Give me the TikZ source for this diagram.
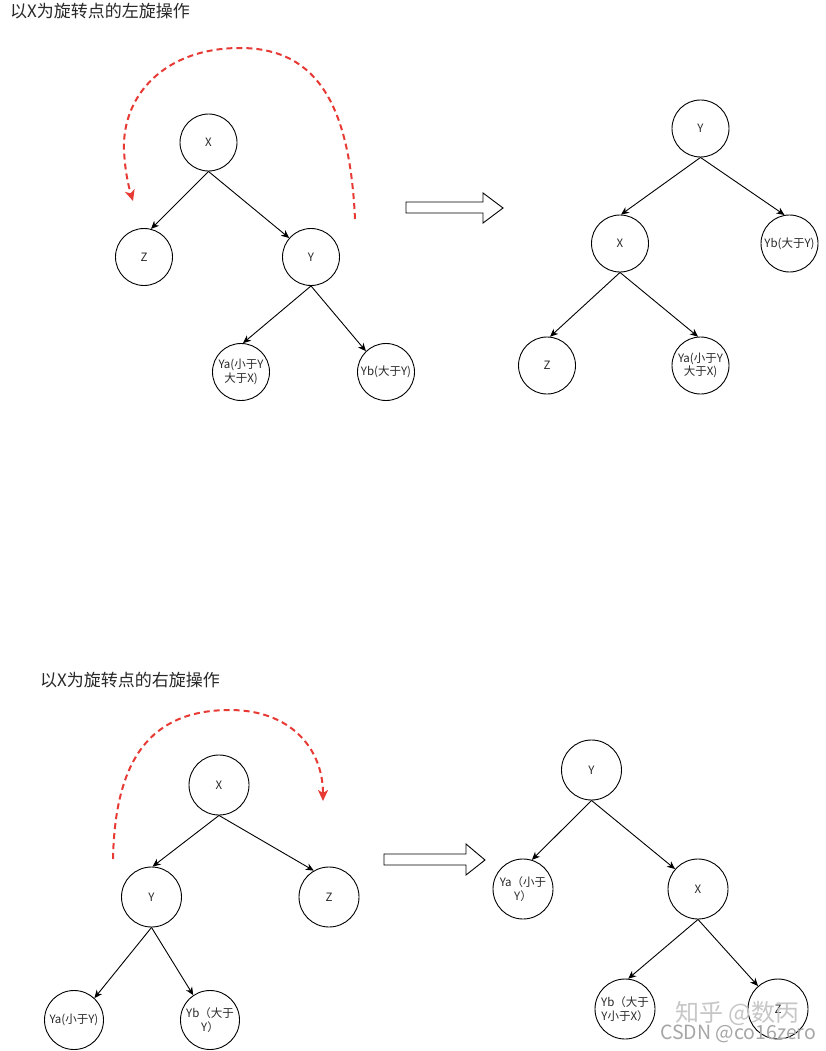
\documentclass[tikz,border=0pt]{standalone}
\usepackage{fontspec}
\setmainfont{Noto Sans CJK SC}
\usetikzlibrary{arrows.meta}
\definecolor{redarc}{RGB}{232,58,52}
\definecolor{txt}{RGB}{40,40,40}
\tikzset{
  nd/.style={draw=black,line width=0.9pt,circle,minimum size=57pt,inner sep=0pt,align=center,
             text=txt,font=\fontsize{11.5}{13.5}\selectfont},
  edge/.style={draw=black,line width=0.9pt,-{Stealth[length=8pt,width=7pt,inset=2.5pt]}},
  rot/.style={draw=redarc,line width=2pt,dash pattern=on 6pt off 4pt,
              -{Stealth[length=11pt,width=10pt,inset=3pt]}},
  hollow/.style={draw=black,line width=0.9pt,fill=white},
  title/.style={anchor=west,text=txt,font=\fontsize{17}{20}\selectfont,inner sep=0pt},
}
\begin{document}
\begin{tikzpicture}[x=1pt,y=-1pt]
\useasboundingbox (0,0) rectangle (826,1051);
\fill[white] (0,0) rectangle (826,1051);

% ---------- titles ----------
\node[title] (t1) at (10,11) {以X为旋转点的左旋操作};
\node[title] (t2) at (40,680) {以X为旋转点的右旋操作};

% ---------- top-left tree ----------
\node[nd] (aX)  at (208.5,142.5) {X};
\node[nd] (aZ)  at (144,257) {Z};
\node[nd] (aY)  at (311,257) {Y};
\node[nd] (aYa) at (241,372) {Ya(小于Y\\大于X)};
\node[nd] (aYb) at (386,372) {Yb(大于Y)};
\draw[edge] (aX.south) -- (aZ.76);
\draw[edge] (aX.south) -- (aY.139);
\draw[edge] (aY.south) -- (aYa.86);
\draw[edge] (aY.south) -- (aYb.134);

\coordinate (r1s) at (355,219);
\coordinate (r1e) at (133,201);
\draw[rot] (r1s) .. controls (350,110) and (320,48) .. (240,48)
  .. controls (165,48) and (122,95) .. (124,150)
  .. controls (125,172) and (129,188) .. (r1e);

% hollow arrow top
\draw[hollow] (406,202) -- (483,202) -- (483,193) -- (503,208) -- (483,223) -- (483,213) -- (406,213) -- cycle;

% ---------- top-right tree ----------
\node[nd] (bY)  at (700.5,128.5) {Y};
\node[nd] (bX)  at (620,243.5) {X};
\node[nd] (bYb) at (789.5,243.5) {Yb(大于Y)};
\node[nd] (bZ)  at (547,365.5) {Z};
\node[nd] (bYa) at (700.5,365.5) {Ya(小于Y\\大于X)};
\draw[edge] (bY.south) -- (bX.88);
\draw[edge] (bY.south) -- (bYb.100);
\draw[edge] (bX.south) -- (bZ.84);
\draw[edge] (bX.south) -- (bYa.95);

% ---------- bottom-left tree ----------
\node[nd,minimum size=60pt] (cX)  at (219,785) {X};
\node[nd,minimum size=60pt] (cY)  at (151.5,897) {Y};
\node[nd,minimum size=60pt] (cZ)  at (329,897) {Z};
\node[nd,minimum size=59pt] (cYa) at (74,1020) {Ya(小于Y)};
\node[nd,minimum size=59pt] (cYb) at (210,1020) {Yb（大于\\Y）};
\draw[edge] (cX.south) -- (cY.88);
\draw[edge] (cX.south) -- (cZ.120);
\draw[edge] (cY.south) -- (cYa.47);
\draw[edge] (cY.south) -- (cYb.124);

\coordinate (r2s) at (113,859);
\coordinate (r2e) at (323,801);
\draw[rot] (r2s) .. controls (115,760) and (150,710) .. (230,710)
  .. controls (290,710) and (323,748) .. (r2e);

% hollow arrow bottom
\draw[hollow] (384,854) -- (466,854) -- (466,844) -- (485,860) -- (466,875) -- (466,865) -- (384,865) -- cycle;

% ---------- bottom-right tree ----------
\node[nd,minimum size=60pt] (dY)  at (591.5,770) {Y};
\node[nd,minimum size=60pt] (dYa) at (523,889) {Ya（小于\\Y）};
\node[nd,minimum size=60pt] (dX)  at (698,889) {X};
\node[nd,minimum size=60pt] (dYb) at (625,1009) {Yb（大于\\Y小于X）};
\node[nd,minimum size=60pt] (dZ)  at (778,1009) {Z};
\draw[edge] (dY.south) -- (dYa.73);
\draw[edge] (dY.south) -- (dX.139);
\draw[edge] (dX.south) -- (dYb.84);
\draw[edge] (dX.south) -- (dZ.131);

% ---------- watermarks ----------
\node[anchor=west,inner sep=0pt,text=black!22,font=\fontsize{24}{26}\selectfont] (w1) at (675,1013) {知乎 @数丙};
\node[anchor=west,inner sep=0pt,text=black!35,font=\fontsize{19.5}{21}\selectfont] (w2) at (660,1034) {CSDN @co16zero};
\end{tikzpicture}
\end{document}
